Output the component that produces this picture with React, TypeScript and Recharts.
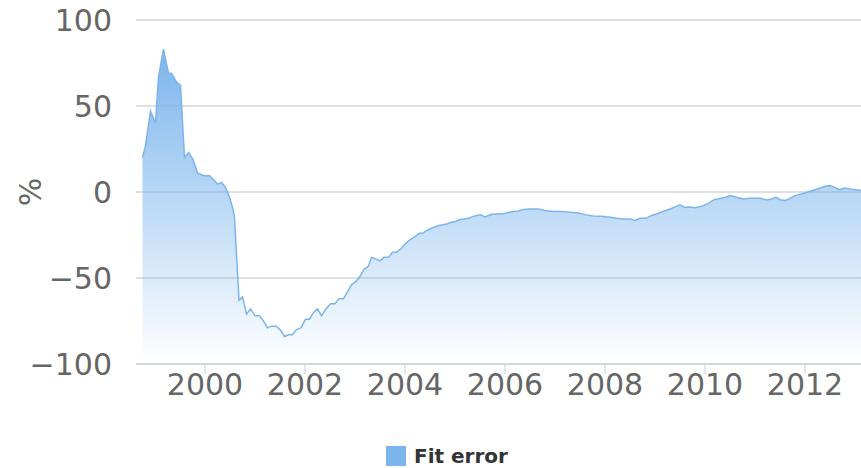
import { AreaChart, Area, XAxis, YAxis, CartesianGrid } from 'recharts'

// decimal years (roughly monthly samples) and fit error in %
const years = [
    1998.75, 1998.81, 1998.91, 1999.01, 1999.07, 1999.17, 1999.27, 1999.33, 1999.43, 1999.51,
    1999.59, 1999.67, 1999.76, 1999.85, 1999.93, 1999.99, 2000.09, 2000.16, 2000.25, 2000.33,
    2000.41, 2000.49, 2000.56, 2000.59, 2000.68, 2000.75, 2000.83, 2000.91, 2001.0, 2001.09,
    2001.17, 2001.25, 2001.33, 2001.42, 2001.5, 2001.59, 2001.67, 2001.75, 2001.83, 2001.92,
    2002.01, 2002.09, 2002.17, 2002.25, 2002.33, 2002.42, 2002.51, 2002.6, 2002.68, 2002.77,
    2002.85, 2002.93, 2003.02, 2003.1, 2003.18, 2003.27, 2003.33, 2003.42, 2003.5, 2003.58,
    2003.67, 2003.75, 2003.83, 2003.92, 2004.01, 2004.09, 2004.2, 2004.29, 2004.35, 2004.43,
    2004.5, 2004.58, 2004.67, 2004.77, 2004.85, 2004.93, 2005.02, 2005.1, 2005.19, 2005.27,
    2005.35, 2005.43, 2005.52, 2005.59, 2005.67, 2005.75, 2005.83, 2005.92, 2006.0, 2006.09,
    2006.17, 2006.26, 2006.37, 2006.5, 2006.67, 2006.8, 2006.97, 2007.13, 2007.3, 2007.47,
    2007.62, 2007.77, 2007.93, 2008.1, 2008.23, 2008.37, 2008.5, 2008.6, 2008.7, 2008.82,
    2008.93, 2009.03, 2009.17, 2009.3, 2009.41, 2009.5, 2009.58, 2009.7, 2009.8, 2009.93,
    2010.07, 2010.18, 2010.3, 2010.43, 2010.5, 2010.63, 2010.77, 2010.9, 2011.0, 2011.1,
    2011.23, 2011.33, 2011.42, 2011.5, 2011.6, 2011.7, 2011.8, 2011.93, 2012.07, 2012.2,
    2012.3, 2012.4, 2012.5, 2012.6, 2012.69, 2012.79, 2012.9, 2013.02, 2013.12,
]

const fitError = [
    20, 27, 47, 40, 67, 83, 69, 69, 64, 62,
    20, 23, 19, 11, 10, 9.5, 9.5, 7.5, 4.6, 5.6,
    2.7, -3, -10, -15, -63, -61, -71, -68, -72, -72,
    -75, -79, -78, -78, -80, -84, -83, -83, -80, -79,
    -74, -74, -70, -68, -72, -68, -65, -65, -62, -62,
    -58, -54, -52, -49, -45, -43, -38, -39, -40, -38,
    -38, -35, -35, -33, -30, -28, -26, -24, -24, -22.5,
    -21.5, -20.5, -19.5, -19, -18.5, -17.6, -17, -16, -15.7, -15.3,
    -14.3, -13.7, -13.3, -14.5, -13.7, -13, -12.8, -12.8, -12.4, -11.8,
    -11.4, -11, -10.2, -9.9, -9.9, -10.8, -11.4, -11.4, -11.8, -12.2,
    -13.3, -13.9, -14.1, -14.7, -15.3, -15.7, -15.7, -16.6, -15.3, -15.3,
    -13.7, -12.8, -11.2, -9.9, -8.5, -7.4, -8.9, -8.7, -9.1, -8.3,
    -6.6, -4.5, -3.7, -2.9, -2.1, -3.1, -4.1, -3.7, -3.7, -3.7,
    -4.6, -4.1, -3.1, -4.5, -5, -3.7, -2.1, -1.2, 0.2, 1.3,
    2.3, 3.3, 3.7, 2.7, 1.3, 2.3, 1.7, 1.3, 0.8,
]

const yearTicks = [2000, 2002, 2004, 2006, 2008, 2010, 2012]
const pctTicks = [-100, -50, 0, 50, 100]

const data = years.map((t, i) => ({ t, value: fitError[i] }))

const COLOR = '#7cb5ec'
const FONT = '"DejaVu Sans", Verdana, sans-serif'

export default function App() {
    return (
        <div style={{ position: 'absolute', left: 0, top: 0, width: 861, height: 468, background: '#fff', fontFamily: FONT }}>
            <AreaChart width={861} height={468} data={data} margin={{ top: 20, right: 0, bottom: 44, left: 0 }}>
                <defs>
                    <linearGradient id="fitFill" x1="0" y1="0" x2="0" y2="1">
                        <stop offset="0" stopColor={COLOR} stopOpacity={1} />
                        <stop offset="1" stopColor={COLOR} stopOpacity={0} />
                    </linearGradient>
                </defs>
                <CartesianGrid vertical={false} stroke="#c0c0c0" strokeWidth={1} />
                <XAxis
                    dataKey="t"
                    type="number"
                    domain={[1998.62, 2013.12]}
                    ticks={yearTicks}
                    allowDataOverflow
                    height={60}
                    axisLine={{ stroke: '#c0d0e0' }}
                    tickLine={{ stroke: '#c0d0e0' }}
                    tickSize={10}
                    tickMargin={0}
                    tick={{ fill: '#666', fontSize: 30, fontFamily: FONT }}
                    interval={0}
                />
                <YAxis
                    domain={[-100, 100]}
                    ticks={pctTicks}
                    width={136}
                    axisLine={false}
                    tickLine={false}
                    tickSize={0}
                    tickMargin={24}
                    tickFormatter={(v: number) => String(v).replace('-', '\u2212')}
                    tick={{ fill: '#666', fontSize: 30, fontFamily: FONT }}
                    label={() => (
                        <text x={30} y={192} transform="rotate(-90 30 192)" textAnchor="middle" dominantBaseline="central"
                            fill="#666" fontSize={30} fontFamily={FONT}>%</text>
                    )}
                />
                <Area
                    type="linear"
                    dataKey="value"
                    baseValue={-100}
                    stroke={COLOR}
                    strokeWidth={1.5}
                    fill="url(#fitFill)"
                    fillOpacity={1}
                    dot={false}
                    activeDot={false}
                    isAnimationActive={false}
                />
            </AreaChart>
            <div style={{ position: 'absolute', left: 386, top: 444, display: 'flex', alignItems: 'center', height: 24 }}>
                <div style={{ width: 20, height: 20, background: COLOR, marginRight: 8 }} />
                <span style={{ fontSize: 20, fontWeight: 'bold', color: '#333', fontFamily: FONT }}>Fit error</span>
            </div>
        </div>
    )
}
